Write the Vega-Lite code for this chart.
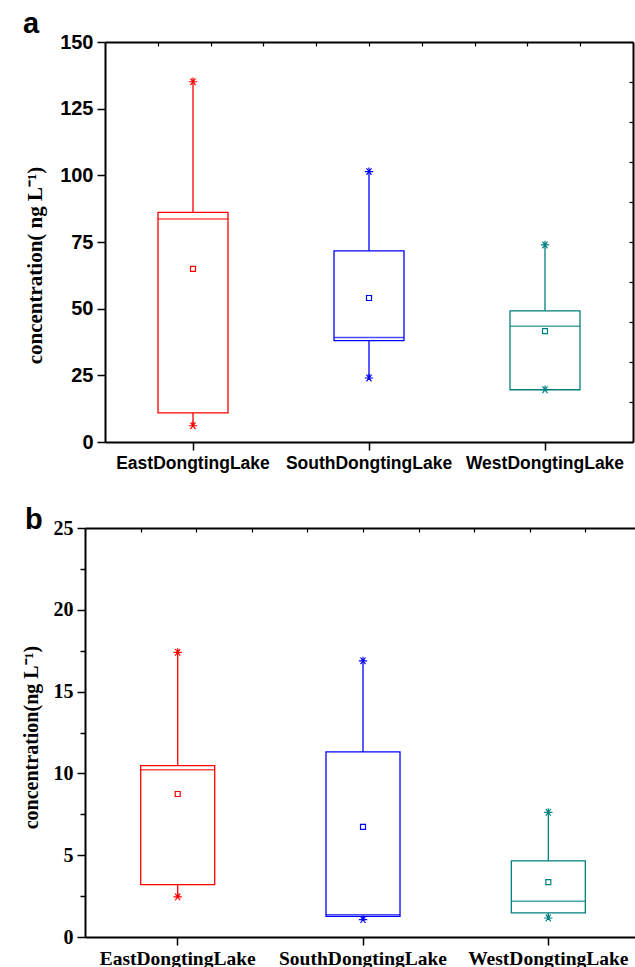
{
  "$schema": "https://vega.github.io/schema/vega-lite/v6.json",
  "background": "white",
  "padding": {"left": 21, "top": 10, "right": 0, "bottom": 0},
  "spacing": 86,
  "bounds": "flush",
  "config": {"view": {"stroke": null}},
  "datasets": {
    "a": [
      {"lake": "EastDongtingLake", "min": 6.1, "q1": 10.9, "median": 83.6, "q3": 86.1, "max": 135.1, "mean": 64.9},
      {"lake": "SouthDongtingLake", "min": 24.0, "q1": 38.0, "median": 39.2, "q3": 71.7, "max": 101.4, "mean": 54.0},
      {"lake": "WestDongtingLake", "min": 19.6, "q1": 19.6, "median": 43.4, "q3": 49.2, "max": 73.9, "mean": 41.6}
    ],
    "b": [
      {"lake": "EastDongtingLake", "min": 2.45, "q1": 3.2, "median": 10.23, "q3": 10.48, "max": 17.4, "mean": 8.74},
      {"lake": "SouthDongtingLake", "min": 1.06, "q1": 1.26, "median": 1.36, "q3": 11.31, "max": 16.88, "mean": 6.73},
      {"lake": "WestDongtingLake", "min": 1.16, "q1": 1.47, "median": 2.18, "q3": 4.65, "max": 7.62, "mean": 3.36}
    ]
  },
  "vconcat": [
    {
      "width": 548,
      "height": 400,
      "data": {"name": "a"},
      "title": {"text": "a", "anchor": "start", "frame": "group", "font": "Liberation Sans", "fontWeight": "bold", "fontSize": 29, "color": "black", "dx": -62, "offset": -30, "baseline": "alphabetic"},
      "layer": [
        {
          "encoding": {
            "x": {"field": "lake", "type": "nominal", "scale": {"type": "band", "domain": ["EastDongtingLake", "SouthDongtingLake", "WestDongtingLake"], "range": [20, 548], "paddingInner": 0, "paddingOuter": 0},
              "axis": {"orient": "bottom", "title": null, "labelAngle": 0, "labelFont": "Liberation Sans", "labelFontWeight": "bold", "labelFontSize": 17.5, "labelColor": "black", "labelPadding": 4, "tickSize": 8, "tickColor": "black", "tickWidth": 1.5, "domainColor": "black", "domainWidth": 2, "grid": false}},
            "color": {"field": "lake", "type": "nominal", "scale": {"domain": ["EastDongtingLake", "SouthDongtingLake", "WestDongtingLake"], "range": ["#FF0000", "#0000FF", "#008080"]}, "legend": null}
          },
          "layer": [
            {"mark": {"type": "rule", "strokeWidth": 1.3},
              "encoding": {
                "y": {"field": "min", "type": "quantitative", "title": "concentration( ng L⁻¹)", "scale": {"domain": [0, 150], "nice": false},
                  "axis": {"orient": "left", "offset": -20, "values": [0, 12.5, 25, 37.5, 50, 62.5, 75, 87.5, 100, 112.5, 125, 137.5, 150],
                    "labelExpr": "datum.value % 25 === 0 ? datum.label : ''",
                    "tickSize": {"condition": {"test": "datum.value % 25 !== 0", "value": 5}, "value": 8},
                    "labelFont": "Liberation Sans", "labelFontWeight": "bold", "labelFontSize": 20, "labelColor": "black", "labelPadding": 4,
                    "tickColor": "black", "tickWidth": 1.5, "domainColor": "black", "domainWidth": 2, "grid": false,
                    "title": "concentration( ng L⁻¹)", "titleFont": "Liberation Serif", "titleFontWeight": "bold", "titleFontSize": 21, "titleColor": "black",
                    "titleX": -70, "titleY": 223, "titleAngle": 270, "titleAlign": "center", "titleBaseline": "middle"}},
                "y2": {"field": "q1"}
              }},
            {"mark": {"type": "rule", "strokeWidth": 1.3},
              "encoding": {"y": {"field": "q3", "type": "quantitative", "title": "concentration( ng L⁻¹)"}, "y2": {"field": "max"}}},
            {"mark": {"type": "bar", "filled": false, "strokeWidth": 1.3, "width": 70},
              "encoding": {"y": {"field": "q1", "type": "quantitative", "title": "concentration( ng L⁻¹)"}, "y2": {"field": "q3"}}},
            {"mark": {"type": "tick", "thickness": 1.6, "size": 70},
              "encoding": {"y": {"field": "median", "type": "quantitative", "title": "concentration( ng L⁻¹)"}}},
            {"mark": {"type": "point", "shape": "square", "filled": false, "size": 25, "strokeWidth": 1.2, "opacity": 1},
              "encoding": {"y": {"field": "mean", "type": "quantitative", "title": "concentration( ng L⁻¹)"}}},
            {"mark": {"type": "point", "shape": "M-1,0L1,0M-0.6,-0.8L0.6,0.8M-0.6,0.8L0.6,-0.8M0,-1L0,0", "filled": false, "size": 70, "strokeWidth": 1.2, "opacity": 1},
              "encoding": {"y": {"field": "min", "type": "quantitative", "title": "concentration( ng L⁻¹)"}}},
            {"mark": {"type": "point", "shape": "M-1,0L1,0M-0.6,-0.8L0.6,0.8M-0.6,0.8L0.6,-0.8M0,-1L0,0", "filled": false, "size": 70, "strokeWidth": 1.2, "opacity": 1},
              "encoding": {"y": {"field": "max", "type": "quantitative", "title": "concentration( ng L⁻¹)"}}}
          ]
        },
        {
          "mark": {"type": "point", "opacity": 0},
          "encoding": {
            "x": {"datum": 0, "type": "quantitative", "scale": {"domain": [0, 10], "range": [20, 548], "nice": false},
              "axis": {"orient": "top", "values": [1, 2, 3, 4, 5, 6, 7, 8, 9], "labels": false, "title": null, "tickSize": -4, "tickColor": "black", "tickWidth": 1.2, "domainColor": "black", "domainWidth": 2, "grid": false}},
            "y": {"datum": 0, "type": "quantitative",
              "axis": {"orient": "right", "values": [0, 15, 30, 45, 60, 75, 90, 105, 120, 135, 150], "labels": false, "title": null, "tickSize": -4, "tickColor": "black", "tickWidth": 1.2, "domainColor": "black", "domainWidth": 2, "grid": false}}
          }
        }
      ],
      "resolve": {"scale": {"x": "independent"}, "axis": {"x": "independent", "y": "independent"}}
    },
    {
      "width": 550,
      "height": 409,
      "data": {"name": "b"},
      "title": {"text": "b", "anchor": "start", "frame": "group", "font": "Liberation Sans", "fontWeight": "bold", "fontSize": 29, "color": "black", "dx": -60, "offset": -40, "baseline": "alphabetic"},
      "layer": [
        {
          "encoding": {
            "x": {"field": "lake", "type": "nominal", "scale": {"type": "band", "domain": ["EastDongtingLake", "SouthDongtingLake", "WestDongtingLake"], "paddingInner": 0.1, "paddingOuter": 0.034, "align": 0.739},
              "axis": {"orient": "bottom", "title": null, "labelAngle": 0, "labelFont": "Liberation Serif", "labelFontWeight": "bold", "labelFontSize": 19.5, "labelColor": "black", "labelPadding": 4, "tickSize": 8, "tickColor": "black", "tickWidth": 1.5, "domainColor": "black", "domainWidth": 2, "grid": false}},
            "color": {"field": "lake", "type": "nominal", "scale": {"domain": ["EastDongtingLake", "SouthDongtingLake", "WestDongtingLake"], "range": ["#FF0000", "#0000FF", "#008080"]}, "legend": null}
          },
          "layer": [
            {"mark": {"type": "rule", "strokeWidth": 1.3},
              "encoding": {
                "y": {"field": "min", "type": "quantitative", "title": "concentration(ng L⁻¹)", "scale": {"domain": [0, 25], "nice": false},
                  "axis": {"orient": "left", "values": [0, 2.5, 5, 7.5, 10, 12.5, 15, 17.5, 20, 22.5, 25],
                    "labelExpr": "datum.value % 5 === 0 ? datum.label : ''",
                    "tickSize": {"condition": {"test": "datum.value % 5 !== 0", "value": 5}, "value": 8},
                    "labelFont": "Liberation Serif", "labelFontWeight": "bold", "labelFontSize": 20, "labelColor": "black", "labelPadding": 4,
                    "tickColor": "black", "tickWidth": 1.5, "domainColor": "black", "domainWidth": 2, "grid": false,
                    "title": "concentration(ng L⁻¹)", "titleFont": "Liberation Serif", "titleFontWeight": "bold", "titleFontSize": 20, "titleColor": "black",
                    "titleX": -54, "titleY": 209, "titleAngle": 270, "titleAlign": "center", "titleBaseline": "middle"}},
                "y2": {"field": "q1"}
              }},
            {"mark": {"type": "rule", "strokeWidth": 1.3},
              "encoding": {"y": {"field": "q3", "type": "quantitative", "title": "concentration(ng L⁻¹)"}, "y2": {"field": "max"}}},
            {"mark": {"type": "bar", "filled": false, "strokeWidth": 1.3, "width": 74},
              "encoding": {"y": {"field": "q1", "type": "quantitative", "title": "concentration(ng L⁻¹)"}, "y2": {"field": "q3"}}},
            {"mark": {"type": "tick", "thickness": 1.5, "size": 74},
              "encoding": {"y": {"field": "median", "type": "quantitative", "title": "concentration(ng L⁻¹)"}}},
            {"mark": {"type": "point", "shape": "square", "filled": false, "size": 25, "strokeWidth": 1.2, "opacity": 1},
              "encoding": {"y": {"field": "mean", "type": "quantitative", "title": "concentration(ng L⁻¹)"}}},
            {"mark": {"type": "point", "shape": "M-1,0L1,0M-0.6,-0.8L0.6,0.8M-0.6,0.8L0.6,-0.8M0,-1L0,0", "filled": false, "size": 70, "strokeWidth": 1.2, "opacity": 1},
              "encoding": {"y": {"field": "min", "type": "quantitative", "title": "concentration(ng L⁻¹)"}}},
            {"mark": {"type": "point", "shape": "M-1,0L1,0M-0.6,-0.8L0.6,0.8M-0.6,0.8L0.6,-0.8M0,-1L0,0", "filled": false, "size": 70, "strokeWidth": 1.2, "opacity": 1},
              "encoding": {"y": {"field": "max", "type": "quantitative", "title": "concentration(ng L⁻¹)"}}}
          ]
        },
        {
          "mark": {"type": "point", "opacity": 0},
          "encoding": {
            "x": {"datum": 0, "type": "quantitative", "scale": {"domain": [0, 9.892], "nice": false},
              "axis": {"orient": "top", "values": [1, 2, 3, 4, 5, 6, 7, 8, 9], "labels": false, "title": null, "tickSize": -4, "tickColor": "black", "tickWidth": 1.2, "domainColor": "black", "domainWidth": 2, "grid": false}},
            "y": {"datum": 0, "type": "quantitative", "axis": null}
          }
        }
      ],
      "resolve": {"scale": {"x": "independent"}, "axis": {"x": "independent", "y": "independent"}}
    }
  ]
}
